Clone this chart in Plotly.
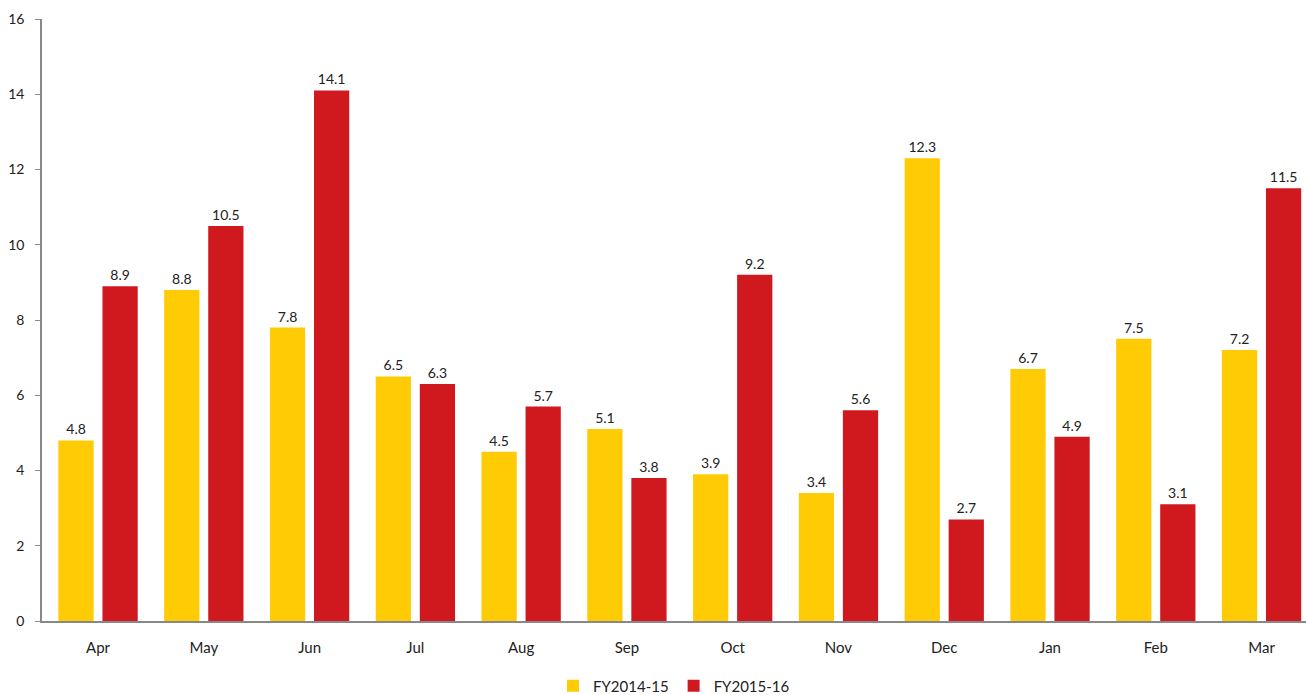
import plotly.graph_objects as go

months = ["Apr", "May", "Jun", "Jul", "Aug", "Sep", "Oct", "Nov", "Dec", "Jan", "Feb", "Mar"]
fy1415 = [4.8, 8.8, 7.8, 6.5, 4.5, 5.1, 3.9, 3.4, 12.3, 6.7, 7.5, 7.2]
fy1516 = [8.9, 10.5, 14.1, 6.3, 5.7, 3.8, 9.2, 5.6, 2.7, 4.9, 3.1, 11.5]
series_names = ["FY2014-15", "FY2015-16"]
colors = ["#FFCB05", "#D0181F"]
yticks = [0, 2, 4, 6, 8, 10, 12, 14, 16]

font_family = "Lato, 'Open Sans', sans-serif"

fig = go.Figure()
for name, vals, col in zip(series_names, [fy1415, fy1516], colors):
    fig.add_trace(go.Bar(
        x=months, y=vals, name=name,
        marker=dict(color=col, line=dict(width=0)),
        text=[f"{v:.1f}" for v in vals],
        textposition="outside",
        textfont=dict(size=14, color="#222222", family=font_family),
        cliponaxis=False,
    ))

fig.update_layout(
    width=1306, height=695,
    margin=dict(l=42, r=0, t=19, b=74, autoexpand=False),
    plot_bgcolor="white", paper_bgcolor="white",
    barmode="group", bargap=0.167, bargroupgap=0.2,
    font=dict(family=font_family, size=15, color="#222222"),
    showlegend=True,
    legend=dict(orientation="h", x=0.5, xanchor="center", y=-0.108, yanchor="middle",
                font=dict(size=15, color="#222222"), itemwidth=30, traceorder="normal"),
    xaxis=dict(showline=True, linecolor="#888888", linewidth=1.5, ticks="",
               showgrid=False, tickfont=dict(size=15), range=[-0.53, 11.42],
               ticklabelstandoff=12),
    yaxis=dict(range=[0, 16], tickvals=yticks, showline=True, linecolor="#888888",
               linewidth=1.5, ticks="outside", ticklen=5, tickcolor="#888888",
               showgrid=False, zeroline=False, tickfont=dict(size=14),
               ticklabelstandoff=8),
)

fig.write_html("out.html")
